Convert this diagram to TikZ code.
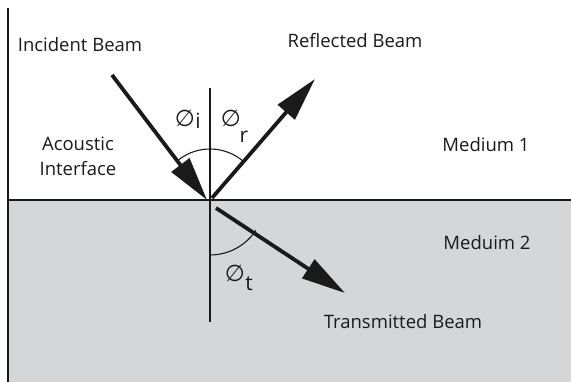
\documentclass[tikz,border=0pt]{standalone}
\usepackage{fontspec}
\setmainfont{Open Sans}
\newfontfamily\symfont{DejaVu Sans}
\usetikzlibrary{arrows.meta,calc}
\definecolor{grayfill}{HTML}{D5D6D8}
\definecolor{ink}{HTML}{1A1A1A}
\begin{document}
\begin{tikzpicture}[x=1pt,y=1pt,
  lbl/.style={inner sep=0pt, text=ink, font=\fontsize{18.5}{25}\selectfont},
  beam/.style={line width=3.8pt, draw=ink, -{Triangle[length=44pt,width=22pt]}},
  thin/.style={line width=1.1pt, draw=ink},
  phi/.style={inner sep=0pt, text=ink, font=\fontsize{23}{24}\selectfont\symfont},
  sub/.style={inner sep=0pt, text=ink, font=\fontsize{21}{24}\selectfont}]
\useasboundingbox (0,0) rectangle (571,382);
\fill[grayfill] (8,0) rectangle (571,182);
\coordinate (O) at (210,182);
\coordinate (leftTop) at (8,374);
\coordinate (leftBot) at (8,0);
\coordinate (ifL) at (8,182);
\coordinate (ifR) at (571,182);
\coordinate (nTop) at (210,294);
\coordinate (nBot) at (210,60);
\draw[line width=1.4pt, draw=ink] (leftTop) -- (leftBot);
\draw[line width=2pt, draw=ink] (ifL) -- (ifR);
\draw[thin] (nTop) -- (nBot);
% arcs
\draw[thin] ($(O)+(49:51)$) arc[start angle=49, end angle=128, radius=51];
\draw[thin] ($(O)+(270:55)$) arc[start angle=270, end angle=326.6, radius=55];
% beams
\coordinate (incS) at (112,307);
\coordinate (incE) at (207,182);
\coordinate (refS) at (212,184);
\coordinate (refE) at (315,303);
\coordinate (traS) at (216,174);
\coordinate (traE) at (345,89);
\draw[beam] (incS) -- (incE);
\draw[beam] (refS) -- (refE);
\draw[beam] (traS) -- (traE);
% labels
\node[lbl] (incident) at (80,337) {Incident Beam};
\node[lbl] (reflected) at (355,341) {Reflected Beam};
\node[lbl, align=center] (acoustic) at (78,226) {Acoustic\\Interface};
\node[lbl] (m1) at (486,237) {Medium 1};
\node[lbl] (m2) at (487,139) {Meduim 2};
\node[lbl] (transmitted) at (403,60) {Transmitted Beam};
\node[phi] (phii) at (185,264) {∅};
\node[sub] (subi) at (198,261) {i};
\node[phi] (phir) at (231,264) {∅};
\node[sub] (subr) at (244,245) {r};
\node[phi] (phit) at (235,109) {∅};
\node[sub] (subt) at (249,98) {t};
\end{tikzpicture}
\end{document}
